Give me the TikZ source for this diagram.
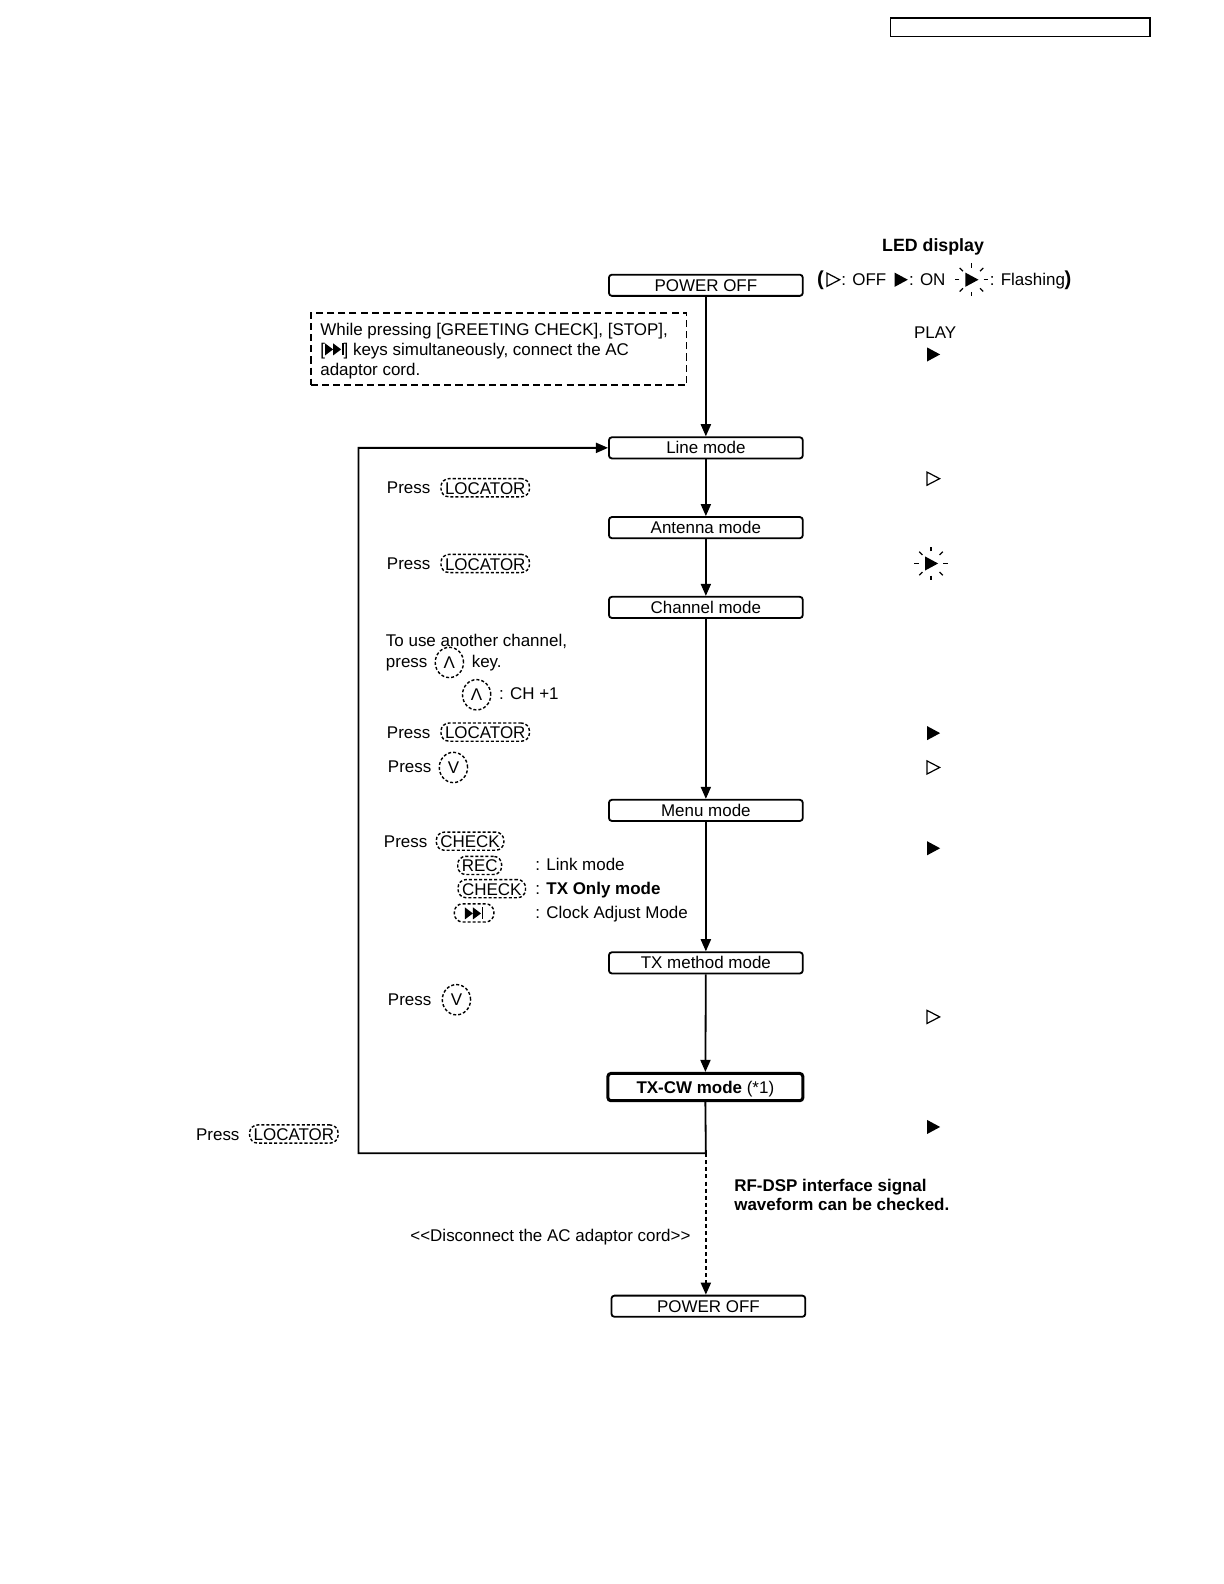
\documentclass[tikz,border=0pt]{standalone}
\usepackage{fontspec}
\setmainfont{Liberation Sans}
\newfontfamily\symf{DejaVu Sans}
\usetikzlibrary{arrows.meta,shapes.geometric}
\newcommand\fs{\fontsize{16.8}{20}\selectfont}
\newcommand\ffwd{\tikz[x=1pt,y=1pt,baseline=0pt,line width=0pt,sharp corners,solid]{\fill (0,0) -- (8,6) -- (0,12) -- cycle; \fill (8,0) -- (16,6) -- (8,12) -- cycle; \fill (16.6,0) rectangle (18.4,12);}}
\begin{document}
\begin{tikzpicture}[x=1pt,y=-1pt, font=\fs,
 box/.style={draw, line width=1.8, rounded corners=3, minimum width=192, minimum height=21, inner sep=0, text height=12, text depth=0},
 lbl/.style={anchor=base west, inner sep=0},
 key/.style={draw, dash pattern=on 3pt off 2pt, line width=1.4, rounded corners=8, inner xsep=4, inner ysep=2.5, text height=13, text depth=0},
 ckey/.style={draw, dash pattern=on 3pt off 2pt, line width=1.4, ellipse, minimum width=28, minimum height=30, inner sep=0},
 conn/.style={line width=1.8, line join=miter, -{Triangle[length=12pt,width=10pt]}},
 onsym/.pic={\fill (-6,-7) -- (7,0) -- (-6,7) -- cycle;},
 offsym/.pic={\draw[line width=1.2] (-6,-6.5) -- (6.5,0) -- (-6,6.5) -- cycle;},
 flashsym/.pic={\fill (-6,-7) -- (7,0) -- (-6,7) -- cycle;
   \foreach \a in {0,45,...,315} \draw[line width=1.2] (\a:12) -- (\a:16.5);},
]
\useasboundingbox (0,0) rectangle (1212,1568.6);

% header rectangle
\node[draw, line width=1.4, minimum width=257, minimum height=18, inner sep=0] (hdr) at (1010.5,27) {};

% flow boxes
\node[box] (off1) at (699,282.5) {POWER OFF};
\node[box] (line) at (699,443.5) {Line mode};
\node[box] (ant) at (699,522.5) {Antenna mode};
\node[box] (chan) at (699,601.5) {Channel mode};
\node[box] (menu) at (699,802.5) {Menu mode};
\node[box] (txm) at (699,953.5) {TX method mode};
\node[box, line width=3, minimum height=27, minimum width=193] (txcw) at (698.5,1076.5) {\textbf{TX-CW mode} (*1)};
\node[box] (off2) at (701.5,1293.5) {POWER OFF};

% connectors
\draw[conn] (off1) -- (line);
\draw[conn] (line) -- (ant);
\draw[conn] (ant) -- (chan);
\draw[conn] (chan) -- (menu);
\draw[conn] (menu) -- (txm);
\draw[conn] (txm) -- (txcw);
\coordinate (loopc) at (699,1142);
\coordinate (loopl) at (355,1142);
\coordinate (loopt) at (355,443.5);
\draw[conn] (txcw.south) -- (loopc) -- (loopl) -- (loopt) -- (line.west);
\draw[conn, dash pattern=on 4pt off 3pt] (loopc) -- (loopc |- off2.north);

% dashed note
\node[draw, dash pattern=on 7pt off 4pt, line width=1.5, minimum width=372, minimum height=71, inner sep=0] (note) at (494,345.5) {};
\node[lbl] (n1) at (317,332) {While pressing [GREETING CHECK], [STOP],};
\node[lbl] (n2) at (317,352) {[\ffwd] keys simultaneously, connect the AC};
\node[lbl] (n3) at (317,372) {adaptor cord.};

% LED legend
\node[anchor=base, inner sep=0] (ledt) at (924,249) {\fontsize{17.6}{20}\selectfont\textbf{LED display}};
\node[anchor=base west, inner sep=0] (lp1) at (809,283) {\bfseries\fontsize{20}{20}\selectfont (};
\pic at (825,277) {offsym};
\node[lbl] (lg1) at (833,283) {: OFF};
\pic at (892,277) {onsym};
\node[lbl] (lg2) at (900,283) {: ON};
\pic at (962,277) {flashsym};
\node[lbl] (lg3) at (980,283) {: Flashing};
\node[anchor=base west, inner sep=0] (lp2) at (1054,283) {\bfseries\fontsize{20}{20}\selectfont )};

% LED column
\node[anchor=base, inner sep=0] (play) at (926,335) {PLAY};
\pic at (924,351) {onsym};
\pic at (924,474) {offsym};
\pic at (922,558) {flashsym};
\pic at (924,726) {onsym};
\pic at (924,760) {offsym};
\pic at (924,840) {onsym};
\pic at (924,1007) {offsym};
\pic at (924,1116) {onsym};

% left labels
\node[lbl] (p1) at (383,489) {Press};
\node[key] (k1) at (480.5,483) {LOCATOR};
\node[lbl] (p2) at (383,564) {Press};
\node[key] (k2) at (480.5,558) {LOCATOR};
\node[lbl] (t1) at (382,640) {To use another channel,};
\node[lbl] (t2) at (382,661) {press};
\node[ckey] (c1) at (445,656) {Λ};
\node[lbl] (t3) at (467,661) {key.};
\node[ckey] (c2) at (472,688) {Λ};
\node[lbl] (t4) at (494,693) {: CH +1};
\node[lbl] (p3) at (383,731) {Press};
\node[key] (k3) at (480.5,725) {LOCATOR};
\node[lbl] (p4) at (384,765) {Press};
\node[ckey] (c3) at (449,760) {V};
\node[lbl] (p5) at (380,839) {Press};
\node[key] (k4) at (465.5,833) {CHECK};
\node[key] (k5) at (475,857) {REC};
\node[lbl] (m1) at (530,862) {: Link mode};
\node[key] (k6) at (487,880) {CHECK};
\node[lbl] (m2) at (530,886) {: \textbf{TX Only mode}};
\node[key, minimum width=39] (k7) at (469.5,904) {\ffwd};
\node[lbl] (m3) at (530,910) {: Clock Adjust Mode};
\node[lbl] (p6) at (384,996) {Press};
\node[ckey] (c4) at (452,990) {V};
\node[lbl] (p7) at (194,1129) {Press};
\node[key] (k8) at (291,1123) {LOCATOR};
\node[anchor=base east, inner sep=0] (disc) at (684,1229) {{<}{<}Disconnect the AC adaptor cord{>}{>}};
\node[lbl] (rf1) at (727,1180) {\textbf{RF-DSP interface signal}};
\node[lbl] (rf2) at (727,1199) {\textbf{waveform can be checked.}};
\end{tikzpicture}
\end{document}
